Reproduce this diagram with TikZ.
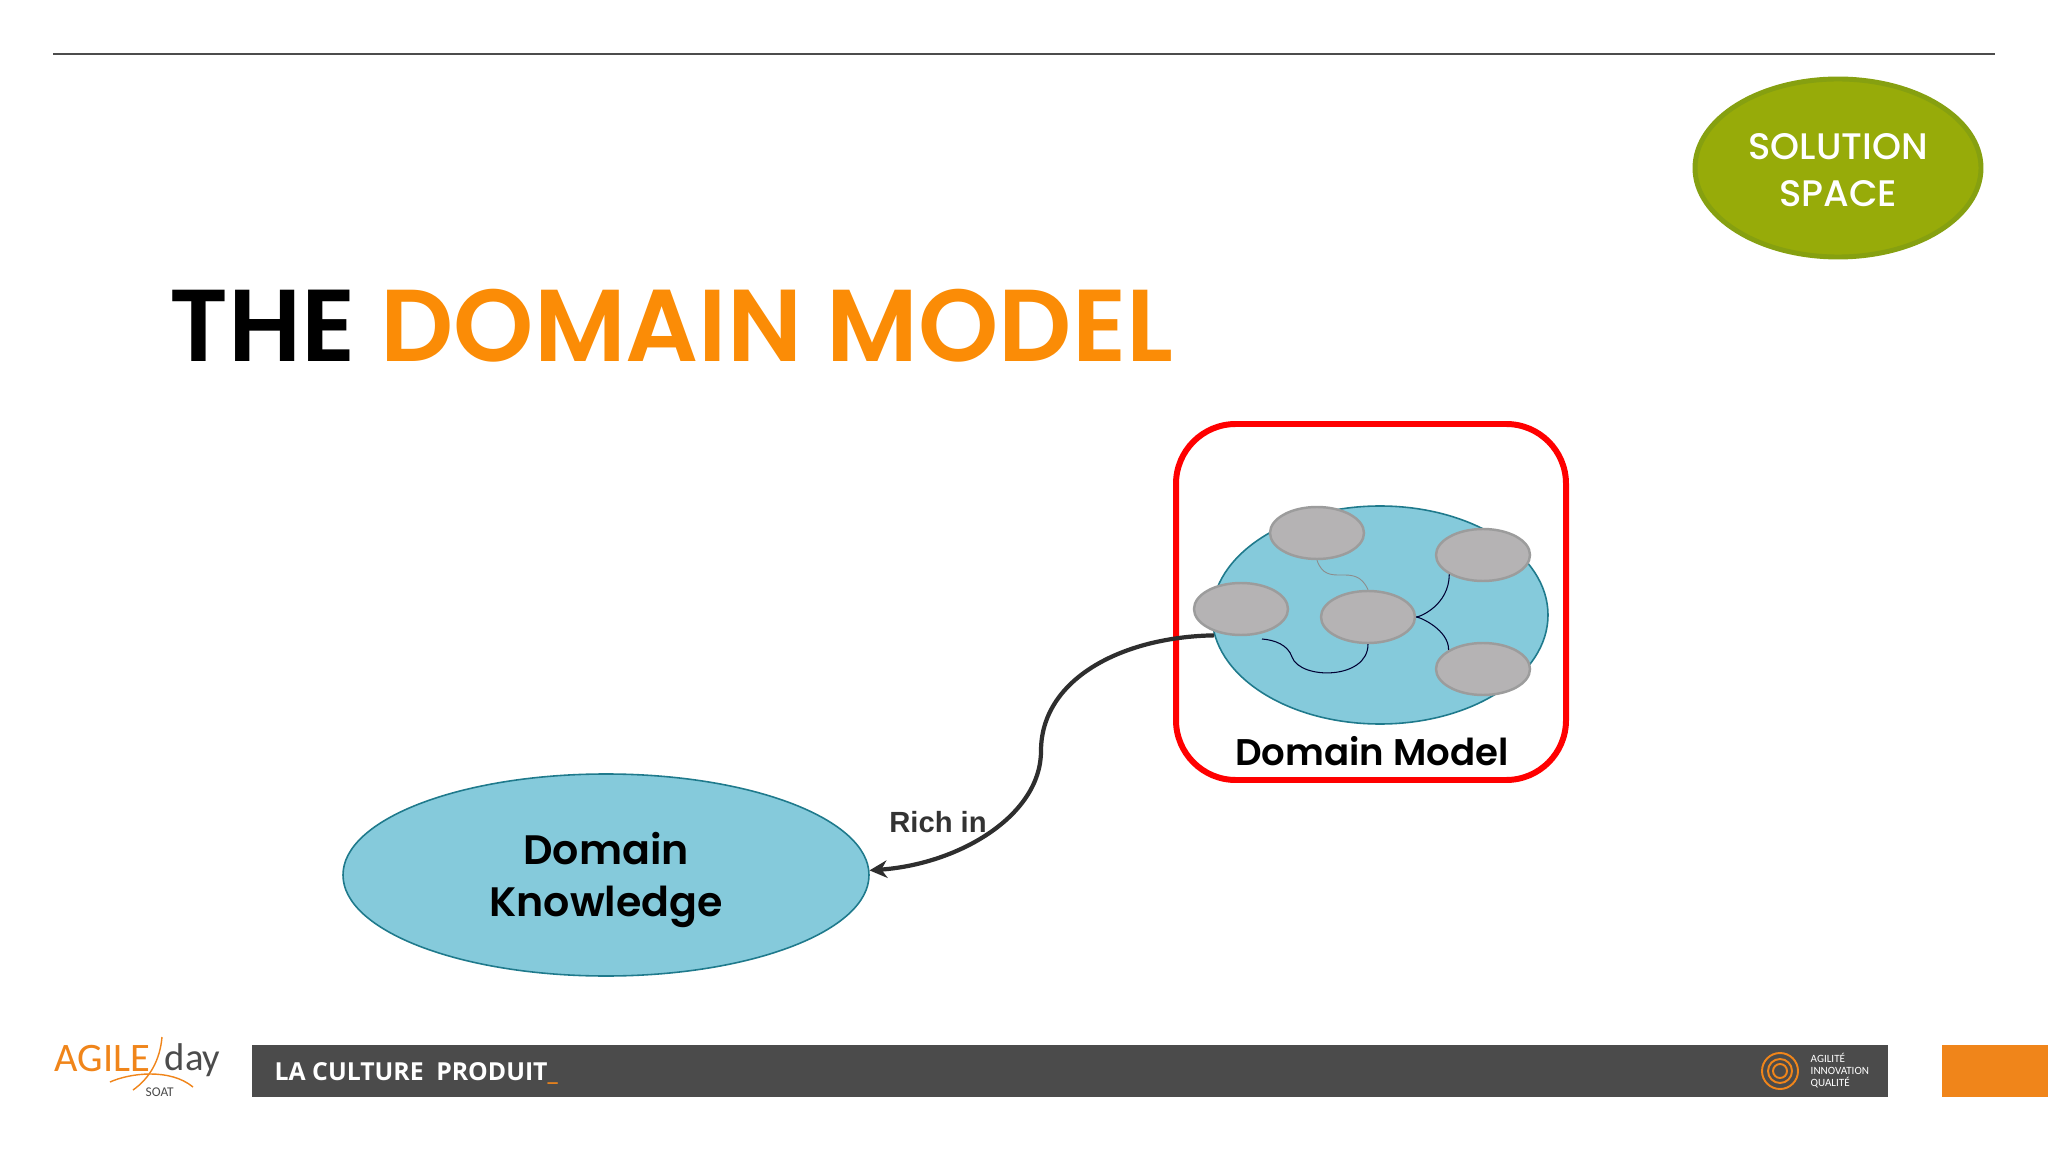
\documentclass[tikz,border=0pt]{standalone}
\usepackage{fontspec}
\usepackage{xcolor}
\usetikzlibrary{shapes.geometric,arrows.meta}
\setmainfont{Poppins SemiBold}
\newfontfamily\medfont{Poppins Medium}
\newfontfamily\helv{Liberation Sans}
\newfontfamily\barfont{Open Sans}
\newfontfamily\logofont{Carlito}
\newcommand{\pxsize}[2]{\fontsize{#1}{#2}\selectfont}
\definecolor{bluefill}{HTML}{85CADB}
\definecolor{blueline}{HTML}{1F7A8C}
\definecolor{greyfill}{HTML}{B5B3B4}
\definecolor{greyline}{HTML}{9C9C9C}
\definecolor{olive}{HTML}{97AB09}
\definecolor{oliveline}{HTML}{86A010}
\definecolor{titleorange}{HTML}{FB8C06}
\definecolor{barorange}{HTML}{F0851A}
\definecolor{bargrey}{HTML}{4B4B4B}
\begin{document}
\begin{tikzpicture}[x=0.01cm,y=-0.01cm,
  blob/.style={ellipse,fill=bluefill,draw=blueline,line width=0.45pt,inner sep=0pt},
  entity/.style={ellipse,fill=greyfill,draw=greyline,line width=0.7pt,inner sep=0pt,minimum width=94*0.01cm,minimum height=52*0.01cm},
  link/.style={line width=0.3pt,draw=black!80!blue},
  bartext/.style={text=white,inner sep=0pt,anchor=base west},
  logotext/.style={inner sep=0pt,anchor=base west,font=\logofont\pxsize{11}{11}}]
\useasboundingbox (0,0) rectangle (2048,1152);
\fill[white] (0,0) rectangle (2048,1152);
\coordinate (rulel) at (53,54);
\coordinate (ruler) at (1995,54);
\draw[line width=0.5pt,draw=black!70] (rulel) -- (ruler);
% header
\node[ellipse,fill=olive,draw=oliveline,line width=1.4pt,minimum width=286*0.01cm,minimum height=178*0.01cm,inner sep=0pt] (space) at (1838,168) {};
\node[inner sep=0pt,align=center,text=white,font=\medfont\pxsize{10.5}{13.4}] (spacelabel) at (1838,170) {SOLUTION\\SPACE};
\node[anchor=base west,inner sep=0pt,font=\pxsize{29.05}{30}] (title) at (169,362) {THE \textcolor{titleorange}{DOMAIN MODEL}};
% domain model
\node[draw=red,line width=1.7pt,rounded corners=17pt,minimum width=390*0.01cm,minimum height=356*0.01cm,inner sep=0pt] (frame) at (1371,602) {};
\node[blob,minimum width=336*0.01cm,minimum height=218*0.01cm] (model) at (1380,615) {};
\node[entity] (enta) at (1317,533) {};
\node[entity] (entb) at (1483,555) {};
\node[entity] (entc) at (1241,609) {};
\node[entity] (entd) at (1368,617) {};
\node[entity] (ente) at (1483,669) {};
\coordinate (cend) at (1262,639);
\coordinate (cmid) at (1292,657);
\draw[line width=0.25pt,draw=black!45] (enta.south) .. controls (1327,590) and (1355,560) .. (entd.north);
\draw[link] (entd.east) .. controls (1420,617) and (1449,605) .. (entb.210);
\draw[link] (entd.east) .. controls (1420,617) and (1449,630) .. (ente.151);
\draw[link] (entd.south) .. controls (1368,680) and (1300,680) .. (cmid) .. controls (1288,645) and (1275,640) .. (cend);
\node[inner sep=0pt,font=\pxsize{10.55}{11}] (modellabel) at (1372,751) {Domain Model};
% domain knowledge
\node[blob,minimum width=526*0.01cm,minimum height=202*0.01cm] (knowledge) at (606,875) {};
\node[inner sep=0pt,align=center,font=\pxsize{11.7}{14.6}] (knowledgelabel) at (606,880) {Domain\\Knowledge};
\coordinate (bend) at (1041,751);
\draw[line width=1.2pt,draw=black!82,-{Stealth[length=5pt,width=5pt]}] (model.187) .. controls (1120,637) and (1041,680) .. (bend) .. controls (1041,815) and (960,864) .. (knowledge.1);
\node[inner sep=0pt,text=black!80,font=\helv\bfseries\pxsize{8.3}{9}] (richin) at (938,822) {Rich in};
% footer
\fill[bargrey] (252,1045) rectangle (1888,1097);
\fill[barorange] (1942,1045) rectangle (2048,1097);
\node[bartext,font=\barfont\bfseries\pxsize{7.05}{8}] (culture) at (274,1080) {LA CULTURE\hspace{0.25em} PRODUIT\textcolor{barorange}{\_}};
\foreach \rad in {18,12,7}
  {\draw[line width=0.55pt,draw=barorange] (1780,1071) circle (\rad*0.01cm);}
\foreach \nm/\txt/\ypos in {agil/AGILIT\'E/1062,inno/INNOVATION/1074,qual/QUALIT\'E/1086}
  {\node[bartext,font=\logofont\pxsize{3.15}{4}] (\nm) at (1810,\ypos) {\txt};}
% logo
\node[logotext,text=barorange,font=\logofont\pxsize{11.5}{12}] (agile) at (54,1071) {AGILE};
\node[logotext,text=black!70] (day) at (164,1070) {day};
\node[inner sep=0pt,anchor=base west,text=black!70,font=\logofont\pxsize{3.8}{4}] (soat) at (145,1096) {SOAT};
\coordinate (slasha) at (162,1037);
\coordinate (slashb) at (133,1090);
\coordinate (swoosha) at (110,1082);
\coordinate (swooshb) at (193,1087);
\draw[line width=0.4pt,draw=barorange] (slasha) .. controls (160,1060) and (150,1078) .. (slashb);
\draw[line width=0.4pt,draw=barorange] (swoosha) .. controls (130,1073) and (170,1068) .. (swooshb);
\end{tikzpicture}
\end{document}
